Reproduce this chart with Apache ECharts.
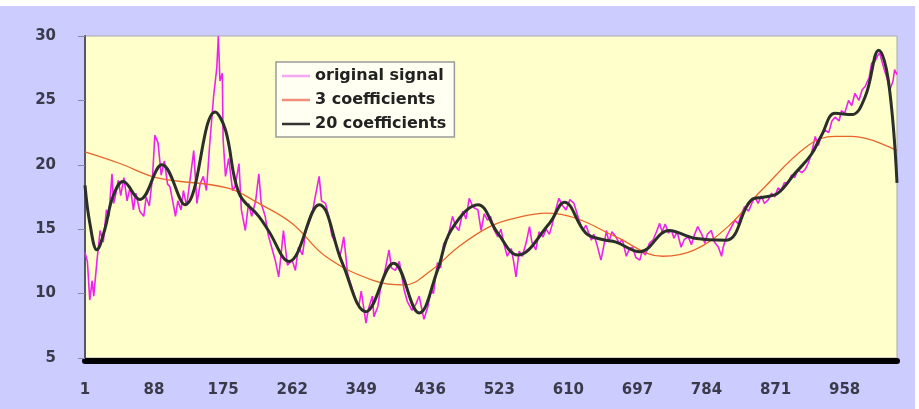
<!DOCTYPE html>
<html>
<head>
<meta charset="utf-8">
<script src="https://cdn.jsdelivr.net/npm/echarts@6/dist/echarts.min.js"></script>
<style>
  html, body { margin: 0; padding: 0; background: #ffffff; }
  #chart { width: 919px; height: 409px; }
</style>
</head>
<body>
<div id="chart"></div>
<script>
// Tick labels shown under the x axis (sample numbers); first tick = sample 1
const tickLabels = ['1', '88', '175', '262', '349', '436', '523', '610', '697', '784', '871', '958'];
const tickStep = 87;
const sampleCount = 1024;

// [sample offset (0 = sample 1), value]
const signalPoints = [
  [0,13.2],[3,12.5],[6,9.5],[9,11.0],[11,9.8],[15,12.5],[19,14.9],[23,14.0],[27,16.5],[30,16.0],
  [34,19.3],[36,17.0],[38,17.5],[42,18.8],[45,17.6],[49,19.0],[53,17.2],[57,18.3],[61,16.5],[64,17.8],
  [69,16.4],[74,16.0],[77,17.5],[81,16.8],[85,19.0],[88,22.3],[92,21.7],[96,19.2],[100,20.3],[104,18.5],
  [107,18.3],[111,17.0],[114,16.0],[117,17.2],[121,16.5],[124,18.0],[128,16.8],[131,18.2],[137,21.1],[141,17.0],
  [145,18.5],[149,19.1],[153,18.0],[157,21.5],[162,25.3],[166,27.5],[168,30.0],[170,26.5],[173,27.1],[174,22.0],
  [177,19.1],[181,20.5],[186,18.0],[189,18.3],[194,20.1],[197,16.5],[202,14.9],[206,17.0],[210,16.0],[215,17.2],
  [219,19.3],[222,17.0],[227,16.0],[231,14.5],[236,13.4],[240,12.5],[244,11.3],[247,13.0],[250,14.9],[255,12.2],
  [261,12.6],[265,11.8],[269,13.6],[274,13.0],[278,14.8],[282,15.45],[287,16.5],[290,17.5],[295,19.1],[298,17.2],
  [303,17.0],[307,16.0],[311,14.5],[316,13.9],[321,12.8],[326,14.4],[331,11.5],[337,10.3],[341,9.5],[345,9.0],
  [348,10.2],[354,7.7],[357,8.8],[362,9.8],[364,8.2],[369,9.0],[372,10.3],[377,11.5],[383,13.4],[386,12.0],
  [391,11.8],[396,12.5],[402,10.3],[406,9.4],[412,8.7],[417,9.2],[421,9.8],[427,8.0],[432,9.0],[436,10.3],
  [439,10.0],[444,12.4],[448,12.0],[452,13.9],[457,14.3],[463,16.0],[467,15.2],[471,14.9],[476,16.4],[480,15.8],
  [484,17.4],[489,16.7],[495,16.5],[499,14.9],[503,16.2],[507,15.7],[511,16.0],[515,15.0],[520,14.4],[524,15.0],
  [528,13.8],[532,12.9],[537,13.5],[540,12.5],[543,11.3],[547,13.3],[551,12.9],[556,14.0],[560,15.2],[563,14.0],
  [568,13.4],[572,14.8],[577,14.4],[581,15.0],[585,14.6],[589,15.45],[593,16.5],[597,17.4],[602,16.8],[606,16.5],
  [611,17.3],[616,17.0],[621,16.0],[627,14.9],[631,15.3],[638,14.15],[641,14.6],[645,13.8],[650,12.6],[653,13.5],
  [657,14.9],[660,14.0],[664,14.8],[669,14.4],[673,13.9],[677,14.2],[682,12.9],[686,13.5],[690,13.6],[694,12.8],
  [699,12.6],[702,13.3],[706,13.0],[711,13.9],[716,14.2],[720,14.8],[724,15.45],[727,14.8],[731,15.4],[735,14.7],
  [739,14.9],[742,14.3],[746,14.8],[751,13.6],[755,14.2],[760,14.4],[764,13.8],[768,14.6],[772,15.2],[777,14.6],
  [781,13.9],[784,14.6],[789,14.9],[793,14.0],[798,13.6],[802,12.9],[804,13.6],[808,14.4],[813,15.0],[819,15.7],
  [823,15.4],[827,16.2],[831,16.75],[836,16.4],[840,17.0],[844,17.5],[848,17.0],[852,17.6],[856,17.0],[861,17.3],
  [865,17.8],[869,17.5],[873,18.2],[877,18.0],[881,18.6],[886,18.6],[890,19.2],[894,19.0],[898,19.6],[903,19.4],
  [907,19.6],[911,20.1],[915,20.8],[920,22.2],[924,21.5],[928,22.4],[932,22.7],[937,22.5],[941,23.4],[945,23.7],
  [950,23.4],[953,24.2],[957,24.0],[962,25.0],[966,24.6],[970,25.55],[975,25.0],[979,25.8],[983,26.1],[988,26.8],
  [991,27.9],[995,28.0],[998,28.4],[1001,28.7],[1006,27.6],[1010,26.8],[1014,25.8],[1018,26.5],[1020,27.4],[1023,27.0]
];

const coef3Points = [
  [0,21.0],[44,20.1],[90,19.0],[179,18.2],[219,17.0],[261,15.45],[303,12.9],[362,11.05],[402,10.67],
  [436,11.8],[470,13.6],[510,15.2],[545,15.9],[581,16.25],[619,15.85],[669,14.4],[728,12.9],[768,13.4],
  [810,15.2],[852,18.0],[911,21.5],[945,22.2],[966,22.2],[1023,21.1]
];

const coef20Points = [
  [0,18.4],[6,15.5],[15,13.4],[25,15.0],[35,17.5],[48,18.7],[69,17.3],[97,20.0],[126,16.9],[164,24.1],
  [177,22.7],[194,17.8],[219,16.0],[231,14.9],[257,12.5],[295,16.9],[324,12.4],[354,8.6],[389,12.35],[421,8.5],
  [444,11.8],[461,14.9],[495,16.9],[520,14.7],[545,13.0],[585,15.45],[604,17.1],[631,14.7],[652,14.2],[669,14.0],
  [699,13.25],[736,14.9],[768,14.3],[808,14.15],[840,17.3],[856,17.5],[873,17.8],[894,19.3],[915,20.8],[928,22.3],
  [945,24.0],[966,23.9],[983,25.3],[1000,28.9],[1012,26.6],[1023,18.6]
];

const seriesNames = ['original signal', '3 coefficients', '20 coefficients'];

const chart = echarts.init(document.getElementById('chart'), null, { renderer: 'canvas' });
chart.setOption({
  animation: false,
  backgroundColor: '#CCCCFF',
  graphic: [
    { type: 'rect', shape: { x: 0, y: 0, width: 919, height: 6 }, style: { fill: '#ffffff' }, z: 100 },
    { type: 'rect', shape: { x: 915, y: 0, width: 4, height: 409 }, style: { fill: '#ffffff' }, z: 100 }
  ],
  grid: {
    left: 85, right: 22, top: 36, bottom: 51,
    show: true, backgroundColor: '#FFFFCC', borderColor: '#A8A8B8', borderWidth: 1
  },
  legend: {
    orient: 'vertical',
    left: 276, top: 62,
    padding: [6, 8, 5, 6],
    itemWidth: 28, itemHeight: 2.5, itemGap: 8,
    icon: 'rect',
    backgroundColor: '#FFFFF2',
    borderColor: '#9A9A9A', borderWidth: 1.5,
    textStyle: { fontFamily: 'DejaVu Sans', fontWeight: 'bold', fontSize: 16, color: '#222222', height: 16, lineHeight: 16 },
    data: [
      { name: seriesNames[0], itemStyle: { color: '#F4A8F4' } },
      { name: seriesNames[1], itemStyle: { color: '#F0907A' } },
      { name: seriesNames[2], itemStyle: { color: '#333333' } }
    ]
  },
  xAxis: {
    type: 'value',
    min: 0, max: sampleCount - 1, interval: tickStep,
    offset: 3,
    axisLine: { show: true, lineStyle: { color: '#000000', width: 6 } },
    axisTick: { show: false },
    splitLine: { show: false },
    axisLabel: {
      margin: 22,
      fontFamily: 'DejaVu Sans', fontWeight: 'bold', fontSize: 15, color: '#3a3a4a',
      formatter: function (v) {
        const k = Math.round(v / tickStep);
        return (v === k * tickStep && k < tickLabels.length) ? tickLabels[k] : '';
      }
    }
  },
  yAxis: {
    type: 'value',
    min: 5, max: 30, interval: 5,
    axisLine: { show: true, lineStyle: { color: '#55556a', width: 2 } },
    axisTick: { show: true, length: 7, lineStyle: { color: '#8888a0', width: 1 } },
    splitLine: { show: false },
    axisLabel: {
      margin: 29,
      fontFamily: 'DejaVu Sans', fontWeight: 'bold', fontSize: 15, color: '#3a3a4a'
    }
  },
  series: [
    {
      name: seriesNames[0], type: 'line', data: signalPoints, symbol: 'none',
      lineStyle: { color: '#EE22EE', width: 1.6 }, z: 2
    },
    {
      name: seriesNames[1], type: 'line', data: coef3Points, symbol: 'none', smooth: 0.4,
      lineStyle: { color: '#E8642C', width: 1.3 }, z: 3
    },
    {
      name: seriesNames[2], type: 'line', data: coef20Points, symbol: 'none', smooth: 0.4,
      lineStyle: { color: '#2a2f2a', width: 3 }, z: 4
    }
  ]
});
</script>
</body>
</html>
